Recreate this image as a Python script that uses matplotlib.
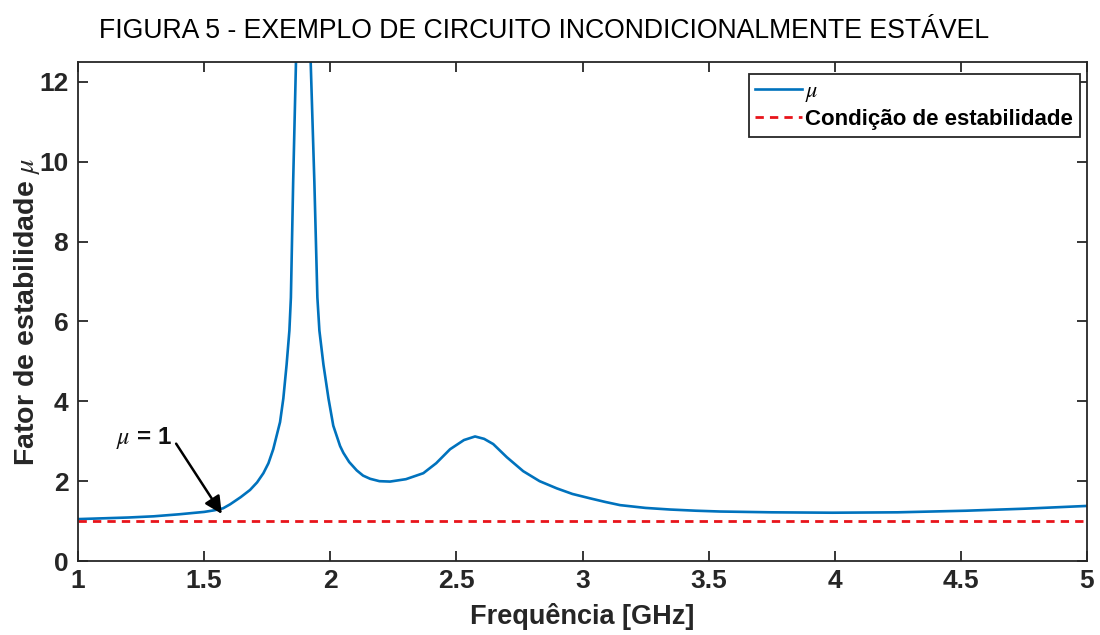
import matplotlib
matplotlib.use('Agg')
import matplotlib.pyplot as plt

plt.rcParams['font.family'] = ['Liberation Sans', 'DejaVu Sans']
plt.rcParams['mathtext.fontset'] = 'stix'

# valores
freq = [1.0, 1.1, 1.2, 1.3, 1.4, 1.45, 1.5, 1.54, 1.575, 1.603, 1.645, 1.682,
        1.71, 1.735, 1.755, 1.774, 1.801, 1.814, 1.827, 1.838, 1.844, 1.853,
        1.866, 1.893, 1.920, 1.937, 1.949, 1.957, 1.973, 1.993, 2.012, 2.039,
        2.052, 2.075, 2.105, 2.13, 2.158, 2.195, 2.237, 2.30, 2.369, 2.42,
        2.475, 2.53, 2.574, 2.61, 2.646, 2.70, 2.765, 2.83, 2.898, 2.96, 3.030,
        3.09, 3.149, 3.25, 3.347, 3.45, 3.545, 3.75, 3.99, 4.25, 4.52, 4.75, 5.0]
mu = [1.05, 1.07, 1.09, 1.12, 1.17, 1.20, 1.23, 1.27, 1.32, 1.42, 1.60, 1.78,
      1.97, 2.2, 2.45, 2.8, 3.48, 4.07, 4.92, 5.77, 6.6, 9.5,
      13.0, 25.0, 13.0, 9.5, 6.6, 5.77, 4.92, 4.07, 3.39, 2.88,
      2.71, 2.48, 2.27, 2.14, 2.06, 2.0, 1.99, 2.05, 2.2, 2.45,
      2.8, 3.03, 3.12, 3.06, 2.93, 2.6, 2.25, 2.0, 1.82, 1.68, 1.57,
      1.48, 1.40, 1.33, 1.29, 1.26, 1.24, 1.22, 1.21, 1.22, 1.26, 1.31, 1.38]
limite = 1.0

xticks = [1, 1.5, 2, 2.5, 3, 3.5, 4, 4.5, 5]
xticklabels = ['1', '1.5', '2', '2.5', '3', '3.5', '4', '4.5', '5']
yticks = [0, 2, 4, 6, 8, 10, 12]

fig = plt.figure(figsize=(11, 6.35), dpi=100)
ax = fig.add_axes([0.0709, 0.1165, 0.9173, 0.7859])

ax.plot(freq, mu, color='#0072BD', lw=1.9, label=r'$\mu$')
ax.axhline(limite, color='#E8141B', lw=2, ls=(0, (3, 2.2)),
           label='Condição de estabilidade')

ax.set_xlim(1, 5)
ax.set_ylim(0, 12.5)
ax.set_xticks(xticks)
ax.set_xticklabels(xticklabels)
ax.set_yticks(yticks)

for s in ax.spines.values():
    s.set_color('#262626')
    s.set_linewidth(1.3)
ax.tick_params(direction='in', length=7, width=1.3, color='#262626',
               top=True, right=True, labelsize=19, labelcolor='#262626')
ax.tick_params(axis='x', pad=6)
ax.tick_params(axis='y', pad=7)
for lab in ax.get_xticklabels() + ax.get_yticklabels():
    lab.set_fontweight('bold')

ax.set_xlabel('Frequência [GHz]', fontsize=19.5, fontweight='bold', color='#262626')
ax.set_ylabel(r'Fator de estabilidade $\mu$', fontsize=20.5, fontweight='bold',
              color='#262626')
ax.xaxis.set_label_coords(0.5, -0.085)
ax.yaxis.set_label_coords(-0.036, 0.5)

leg = ax.legend(loc='upper right', bbox_to_anchor=(0.993, 0.976), borderaxespad=0,
                fancybox=False, framealpha=1, edgecolor='#262626',
                prop={'size': 16, 'weight': 'bold'}, handlelength=2.1,
                handletextpad=0.15, borderpad=0.3, labelspacing=0.25)
leg.get_frame().set_linewidth(1.3)

ax.text(1.262, 3.07, r'$\mu$ = 1', fontsize=17.5, fontweight='bold',
        ha='center', va='center', color='#111111')
ax.annotate('', xy=(1.570, 1.18), xytext=(1.389, 2.94),
            arrowprops=dict(arrowstyle='-|>', color='black', lw=1.8,
                            mutation_scale=26, shrinkA=0, shrinkB=0))

fig.text(0.495, 0.951, 'FIGURA 5 - EXEMPLO DE CIRCUITO INCONDICIONALMENTE ESTÁVEL',
         fontsize=19.2, ha='center', va='center')

fig.savefig('out.png', dpi=100)
